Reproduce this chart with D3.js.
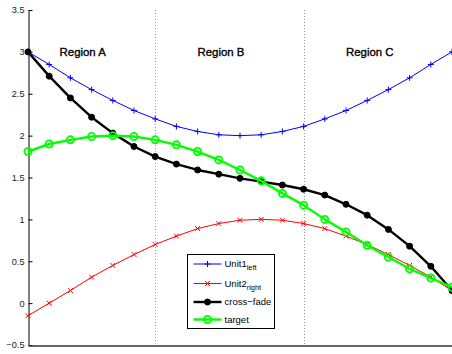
<!DOCTYPE html>
<html>
<head>
<meta charset="utf-8">
<script src="https://cdn.jsdelivr.net/npm/d3@7"></script>
<style>
  html, body { margin: 0; padding: 0; background: #fff; }
  svg { display: block; font-family: "Liberation Sans", Arial, Helvetica, sans-serif; }
</style>
</head>
<body>
<svg id="chart" width="452" height="354"></svg>
<script>
// Sample positions (21 evenly spaced samples on [0, 1])
const samples = [0, 0.05, 0.1, 0.15, 0.2, 0.25, 0.3, 0.35, 0.4, 0.45, 0.5,
                 0.55, 0.6, 0.65, 0.7, 0.75, 0.8, 0.85, 0.9, 0.95, 1];

const unit1Left = [3.00, 2.85, 2.69, 2.55, 2.42, 2.30, 2.20, 2.11, 2.05, 2.01, 2.00,
                   2.01, 2.05, 2.11, 2.20, 2.30, 2.42, 2.55, 2.69, 2.85, 3.00];
const unit2Right = [-0.15, 0.00, 0.15, 0.31, 0.45, 0.58, 0.70, 0.80, 0.89, 0.95, 0.99,
                    1.00, 0.99, 0.95, 0.89, 0.80, 0.70, 0.58, 0.45, 0.31, 0.15];
const crossFade = [3.00, 2.71, 2.45, 2.22, 2.03, 1.87, 1.75, 1.66, 1.59, 1.54, 1.49,
                   1.45, 1.41, 1.36, 1.29, 1.18, 1.05, 0.88, 0.68, 0.44, 0.15];
const target = [1.81, 1.90, 1.95, 1.99, 2.00, 1.99, 1.95, 1.89, 1.81, 1.71, 1.59,
                1.46, 1.31, 1.17, 1.00, 0.85, 0.69, 0.55, 0.41, 0.30, 0.19];

// Region boundaries and names
const regionBounds = [0.3, 0.65];
const regionNames = ["Region A", "Region B", "Region C"];

// Y axis ticks
const yTicks = [-0.5, 0, 0.5, 1, 1.5, 2, 2.5, 3, 3.5];
const yTickLabels = ["\u22120.5", "0", "0.5", "1", "1.5", "2", "2.5", "3", "3.5"];

// Legend entries: main text and subscript
const legendNames = ["Unit1", "Unit2", "cross\u2212fade", "target"];
const legendSubs = ["left", "right", "", ""];

// ---- layout ----
const svg = d3.select("#chart");
const plot = { left: 28, right: 452, top: 10, bottom: 345 };

const x = d3.scaleLinear().domain([0, 1]).range([plot.left, plot.right]);
const y = d3.scaleLinear().domain([-0.5, 3.5]).range([plot.bottom, plot.top]);

// Region separators
svg.append("g").selectAll("line")
  .data(regionBounds)
  .join("line")
  .attr("x1", d => Math.round(x(d)) + 0.5)
  .attr("x2", d => Math.round(x(d)) + 0.5)
  .attr("y1", plot.top)
  .attr("y2", plot.bottom)
  .attr("stroke", "#9a9a9a")
  .attr("stroke-width", 1)
  .attr("stroke-dasharray", "1,2");

// Region labels, placed inside each region
const regionLabelX = [0.129, 0.455, 0.806];
svg.append("g").selectAll("text")
  .data(regionNames)
  .join("text")
  .attr("x", (d, i) => x(regionLabelX[i]))
  .attr("y", y(3) + 4)
  .attr("text-anchor", "middle")
  .attr("font-size", "11.4px")
  .attr("fill", "#000")
  .attr("stroke", "#000")
  .attr("stroke-width", 0.35)
  .text(d => d);

// Axes
const yAxis = d3.axisLeft(y)
  .tickValues(yTicks)
  .tickFormat((d, i) => yTickLabels[i])
  .tickSizeInner(-4)
  .tickSizeOuter(0)
  .tickPadding(4);
const gy = svg.append("g")
  .attr("transform", `translate(${plot.left + 0.5},0)`)
  .call(yAxis);
gy.selectAll("text").attr("font-size", "9.2px").attr("fill", "#222")
  .attr("font-family", "'Liberation Sans', Arial, sans-serif");
gy.selectAll("line, path").attr("stroke", "#000");

const xAxis = d3.axisBottom(x).tickValues([]).tickSizeOuter(0);
svg.append("g")
  .attr("transform", `translate(0,${plot.bottom + 0.5})`)
  .call(xAxis)
  .selectAll("path").attr("stroke", "#333").attr("stroke-width", 1.6);

// Series definitions
const series = [
  { name: "unit1", values: unit1Left, color: "#0000ff", width: 1, marker: "plus" },
  { name: "unit2", values: unit2Right, color: "#ff0000", width: 1, marker: "cross" },
  { name: "fade", values: crossFade, color: "#000000", width: 2.4, marker: "dot" },
  { name: "target", values: target, color: "#00ff00", width: 2.4, marker: "ring" }
];

const line = d3.line()
  .x(d => x(d[0]))
  .y(d => y(d[1]));

function drawMarker(sel, kind, color) {
  if (kind === "plus") {
    sel.append("path").attr("d", "M-3,0H3M0,-3V3")
      .attr("stroke", color).attr("stroke-width", 1).attr("fill", "none");
  } else if (kind === "cross") {
    sel.append("path").attr("d", "M-2.4,-2.4L2.4,2.4M-2.4,2.4L2.4,-2.4")
      .attr("stroke", color).attr("stroke-width", 1).attr("fill", "none");
  } else if (kind === "dot") {
    sel.append("circle").attr("r", 3)
      .attr("fill", color).attr("stroke", color).attr("stroke-width", 1);
  } else if (kind === "ring") {
    sel.append("circle").attr("r", 3.6)
      .attr("fill", "none").attr("stroke", color).attr("stroke-width", 1.8);
  }
}

series.forEach(s => {
  const pts = samples.map((t, i) => [t, s.values[i]]);
  const g = svg.append("g").attr("class", "series-" + s.name);
  g.append("path")
    .attr("d", line(pts))
    .attr("fill", "none")
    .attr("stroke", s.color)
    .attr("stroke-width", s.width)
    .attr("stroke-linejoin", "round");
  g.selectAll("g.m")
    .data(pts)
    .join("g")
    .attr("class", "m")
    .attr("transform", d => `translate(${x(d[0])},${y(d[1])})`)
    .each(function () { drawMarker(d3.select(this), s.marker, s.color); });
});

// Legend
const legend = svg.append("g").attr("transform", "translate(187.5,254.5)");
legend.append("rect")
  .attr("width", 87).attr("height", 74)
  .attr("fill", "#fff").attr("stroke", "#000").attr("stroke-width", 1);

const rowY = [9.5, 29, 47.5, 65];
series.forEach((s, i) => {
  const row = legend.append("g").attr("transform", `translate(0,${rowY[i]})`);
  row.append("line")
    .attr("x1", 6).attr("x2", 34)
    .attr("stroke", s.color).attr("stroke-width", s.width);
  const m = row.append("g").attr("transform", "translate(20,0)");
  drawMarker(m, s.marker, s.color);
  const t = row.append("text")
    .attr("x", 37).attr("y", 3.4)
    .attr("font-size", "9.5px").attr("fill", "#000");
  t.append("tspan").text(legendNames[i]);
  if (legendSubs[i]) {
    t.append("tspan").attr("dy", 3).attr("font-size", "7.4px").text(legendSubs[i]);
  }
});
</script>
</body>
</html>
